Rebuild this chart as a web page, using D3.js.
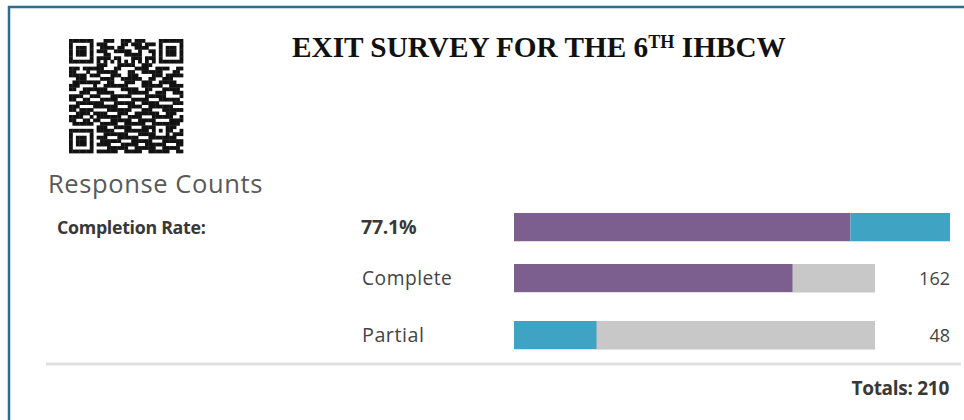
<!DOCTYPE html>
<html>
<head>
<meta charset="utf-8">
<script src="https://cdn.jsdelivr.net/npm/d3@7"></script>
<style>
  html, body { margin: 0; padding: 0; background: #ffffff; }
  svg { display: block; }
</style>
</head>
<body>
<svg id="chart" width="964" height="420"></svg>
<script>
// Survey response figures
const categories = ["Complete", "Partial"];
const counts = [162, 48];
const seriesColors = ["#7d5f8f", "#3fa3c3"];
const titleMain = "EXIT SURVEY FOR THE 6";
const titleSup = "TH";
const titleTail = " IHBCW";
const sectionTitle = "Response Counts";
const rateLabel = "Completion Rate:";
const totalLabel = "Totals:";

// QR code module rows (function patterns are drawn on top in code)
const qrRows = [
  "111111100011100111011100001111111",
  "100000101110000110111011101000001",
  "101110100111101100011110001011101",
  "101110101110011111001001101011101",
  "101110100011000011111000101011101",
  "100000101111011000111011101000001",
  "111111101010101010101010101111111",
  "000000001110001111100111000000000",
  "111011111100011000011110011110011",
  "110001001111110001100111111000110",
  "111110111000111001110000111011111",
  "001110000111100111111001100111000",
  "011111111001100011100111001111100",
  "111000110011111110000111111001111",
  "110011111110000111110011000111110",
  "000111001111100001111110011100111",
  "111100111000111111000011111100001",
  "110011100111110000111110001111110",
  "001111111100011111100111110000111",
  "111000011111110001111001111111000",
  "110111100001111111000111000111111",
  "001111111110001110011111110011100",
  "111100001111111001111000111111001",
  "110011111000111111001111100001111",
  "011111100111110011111100111111110",
  "000000001110011111000111110011100",
  "111111101111100011111110011111001",
  "100000100011111110001111111000111",
  "101110101110001111110001111111100",
  "101110100111111000111111000111111",
  "101110101111000111110011111100011",
  "100000100001111110011111100111110",
  "111111101111110011111001111110011"
];

const total = d3.sum(counts);
const completionRate = counts[0] / total;

const svg = d3.select("#chart");

// Card frame
svg.append("rect")
  .attr("x", 9).attr("y", 7)
  .attr("width", 980).attr("height", 440)
  .attr("fill", "none")
  .attr("stroke", "#2b6c90")
  .attr("stroke-width", 2.5);

// ---- QR code ----
const N = qrRows.length;
const grid = qrRows.map(r => Array.from({length: N}, (_, i) => r.charAt(i) === "1"));
function finder(r0, c0) {
  for (let r = -1; r <= 7; r++) for (let c = -1; c <= 7; c++) {
    const rr = r0 + r, cc = c0 + c;
    if (rr < 0 || cc < 0 || rr >= N || cc >= N) continue;
    let on = false;
    if (r >= 0 && r <= 6 && c >= 0 && c <= 6) {
      on = (r === 0 || r === 6 || c === 0 || c === 6) || (r >= 2 && r <= 4 && c >= 2 && c <= 4);
    }
    grid[rr][cc] = on;
  }
}
finder(0, 0); finder(0, N - 7); finder(N - 7, 0);
for (let i = 8; i < N - 8; i++) { grid[6][i] = i % 2 === 0; grid[i][6] = i % 2 === 0; }
(function align(cr, cc) {
  for (let r = -2; r <= 2; r++) for (let c = -2; c <= 2; c++) {
    grid[cr + r][cc + c] = Math.max(Math.abs(r), Math.abs(c)) !== 1;
  }
})(N - 7, N - 7);
grid[N - 8][8] = true;

const qrX = d3.scaleLinear().domain([0, N]).range([69, 183]);
const qrY = d3.scaleLinear().domain([0, N]).range([39, 153]);
const cells = [];
grid.forEach((row, r) => row.forEach((on, c) => { if (on) cells.push({r, c}); }));
svg.append("g").selectAll("rect").data(cells).join("rect")
  .attr("x", d => qrX(d.c)).attr("y", d => qrY(d.r))
  .attr("width", qrX(1) - qrX(0) + 0.35).attr("height", qrY(1) - qrY(0) + 0.35)
  .attr("fill", "#111");

// ---- Title ----
const title = svg.append("text")
  .attr("x", 292).attr("y", 57)
  .attr("font-family", "'Liberation Serif', 'DejaVu Serif', serif")
  .attr("font-weight", "bold")
  .attr("fill", "#111");
const tMain = title.append("tspan").text(titleMain);
const tSup = title.append("tspan").text(titleSup).attr("dy", -9);
const tTail = title.append("tspan").text(titleTail).attr("dy", 9);
function sizeTitle(s) {
  tMain.attr("font-size", s);
  tSup.attr("font-size", s * 0.62);
  tTail.attr("font-size", s);
}
sizeTitle(26);
const natural = title.node().getComputedTextLength();
sizeTitle(26 * 494 / natural);

// ---- Section heading and labels ----
const sansUI = "'Open Sans', 'Noto Sans', sans-serif";
const sansBold = "'Open Sans', Lato, sans-serif";

// Text whose font size is scaled so it spans a given width
function label(x, y, txt, opts) {
  const t = svg.append("text")
    .attr("x", x).attr("y", y)
    .attr("font-family", opts.family)
    .attr("font-size", opts.size)
    .attr("font-weight", opts.weight || "normal")
    .attr("fill", opts.color)
    .attr("text-anchor", opts.anchor || "start")
    .attr("letter-spacing", opts.spacing || 0)
    .text(txt);
  if (opts.width) {
    const w = t.node().getComputedTextLength();
    t.attr("font-size", opts.size * opts.width / w);
  }
  return t;
}

label(48, 193, sectionTitle, {family: sansUI, size: 21, color: "#595959", width: 217, spacing: 0.6});
label(57, 234, rateLabel, {family: sansBold, size: 16, weight: "bold", color: "#383838", width: 148, spacing: -0.3});
label(361, 234, d3.format(".1%")(completionRate), {family: sansBold, size: 16, weight: "bold", color: "#383838", width: 55, spacing: -0.3});

// ---- Bars ----
const barH = 28;
const rowTop = { rate: 213, Complete: 264, Partial: 321 };

// Stacked completion bar
const xRate = d3.scaleLinear().domain([0, total]).range([514, 950]);
const stackData = counts.map((v, i) => ({
  key: categories[i], start: d3.sum(counts.slice(0, i)), end: d3.sum(counts.slice(0, i + 1)), color: seriesColors[i]
}));
svg.append("g").selectAll("rect").data(stackData).join("rect")
  .attr("x", d => xRate(d.start))
  .attr("y", rowTop.rate)
  .attr("width", d => xRate(d.end) - xRate(d.start))
  .attr("height", barH)
  .attr("fill", d => d.color);
svg.append("line")
  .attr("x1", xRate(0)).attr("x2", xRate(total))
  .attr("y1", rowTop.rate + barH + 0.5).attr("y2", rowTop.rate + barH + 0.5)
  .attr("stroke", "#dcdcdc").attr("stroke-width", 1);

// Per-category bars against the total
const xCat = d3.scaleLinear().domain([0, total]).range([514, 875]);
const rows = svg.append("g").selectAll("g").data(categories).join("g")
  .attr("transform", d => `translate(0,${rowTop[d]})`);
rows.append("rect")
  .attr("x", xCat(0)).attr("y", 0)
  .attr("width", xCat(total) - xCat(0)).attr("height", barH)
  .attr("fill", "#c8c8c8");
rows.append("rect")
  .attr("x", xCat(0)).attr("y", 0)
  .attr("width", (d, i) => xCat(counts[i]) - xCat(0)).attr("height", barH)
  .attr("fill", (d, i) => seriesColors[i]);
rows.append("line")
  .attr("x1", xCat(0)).attr("x2", xCat(total))
  .attr("y1", barH + 0.5).attr("y2", barH + 0.5)
  .attr("stroke", "#e2e2e2").attr("stroke-width", 1);
rows.each(function (d, i) {
  const g = d3.select(this);
  const lab = g.append("text")
    .attr("x", 362).attr("y", barH - 7)
    .attr("font-family", sansUI).attr("font-size", 17)
    .attr("letter-spacing", 0.5)
    .attr("fill", "#444")
    .text(d);
  const target = d === "Complete" ? 91 : 63;
  lab.attr("font-size", 17 * target / lab.node().getComputedTextLength());
  g.append("text")
    .attr("x", 950).attr("y", barH - 7)
    .attr("text-anchor", "end")
    .attr("font-family", sansUI).attr("font-size", 18)
    .attr("fill", "#444")
    .text(counts[i]);
});

// Separator and totals
svg.append("line")
  .attr("x1", 46).attr("x2", 961)
  .attr("y1", 364).attr("y2", 364)
  .attr("stroke", "#e0e0e0").attr("stroke-width", 3);
label(949, 395, `${totalLabel} ${total}`, {family: sansBold, size: 16, weight: "bold", color: "#383838", anchor: "end", width: 97, spacing: -0.3});
</script>
</body>
</html>
